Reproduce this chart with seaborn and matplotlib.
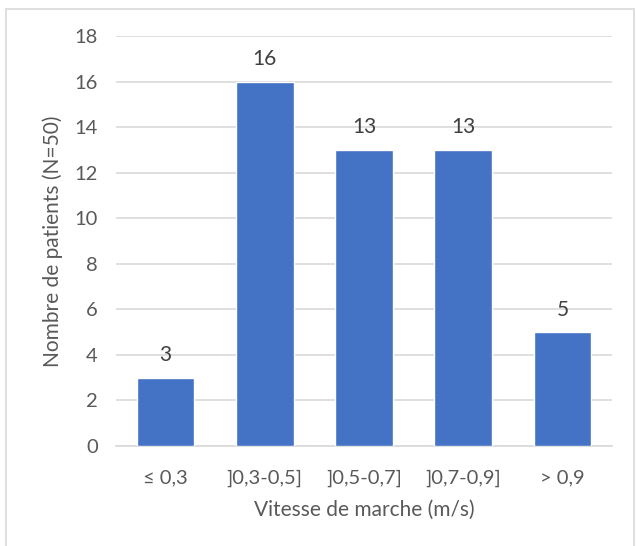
import matplotlib
matplotlib.use("Agg")
import matplotlib.pyplot as plt
import seaborn as sns
import pandas as pd
from matplotlib.patches import Rectangle

categories = ["≤ 0,3", "]0,3-0,5]", "]0,5-0,7]", "]0,7-0,9]", "> 0,9"]
values = [3, 16, 13, 13, 5]
yticks = [0, 2, 4, 6, 8, 10, 12, 14, 16, 18]

df = pd.DataFrame({"cat": categories, "val": values})

sns.set_theme(style="white")
plt.rcParams["font.family"] = ["Lato", "DejaVu Sans"]
text_color = "#595959"
grid_color = "#D9D9D9"

fig = plt.figure(figsize=(6.36, 5.46), dpi=100)
ax = fig.add_axes([116/636, 1-446/546, (612-116)/636, (446-36)/546])

sns.barplot(data=df, x="cat", y="val", color="#4472C4", saturation=1,
            width=0.58, ax=ax, zorder=3)
ax.set_xlim(-0.5, 4.5)
ax.set_ylim(0, 18)
ax.set_yticks(yticks)
ax.yaxis.grid(True, color=grid_color, linewidth=1.2, zorder=0)
ax.set_axisbelow(True)
for s in ["top", "right", "left"]:
    ax.spines[s].set_visible(False)
ax.spines["bottom"].set_color(grid_color)
ax.spines["bottom"].set_linewidth(1.2)
ax.tick_params(axis="both", length=0, labelsize=14.5, colors=text_color)
ax.tick_params(axis="y", pad=13)
ax.tick_params(axis="x", pad=17)
for c in ax.containers:
    ax.bar_label(c, labels=[str(v) for v in values], padding=9,
                 fontsize=15, color="#404040")
ax.set_xlabel("Vitesse de marche (m/s)", fontsize=15, color=text_color, labelpad=9)
ax.set_ylabel("Nombre de patients (N=50)", fontsize=15, color=text_color, labelpad=8)

fig.patches.append(Rectangle((6/636, -0.01), (634-6)/636, 1 - 9/546 + 0.01,
                             transform=fig.transFigure, fill=False,
                             edgecolor=grid_color, linewidth=1.2))
fig.savefig("out.png", dpi=100)
